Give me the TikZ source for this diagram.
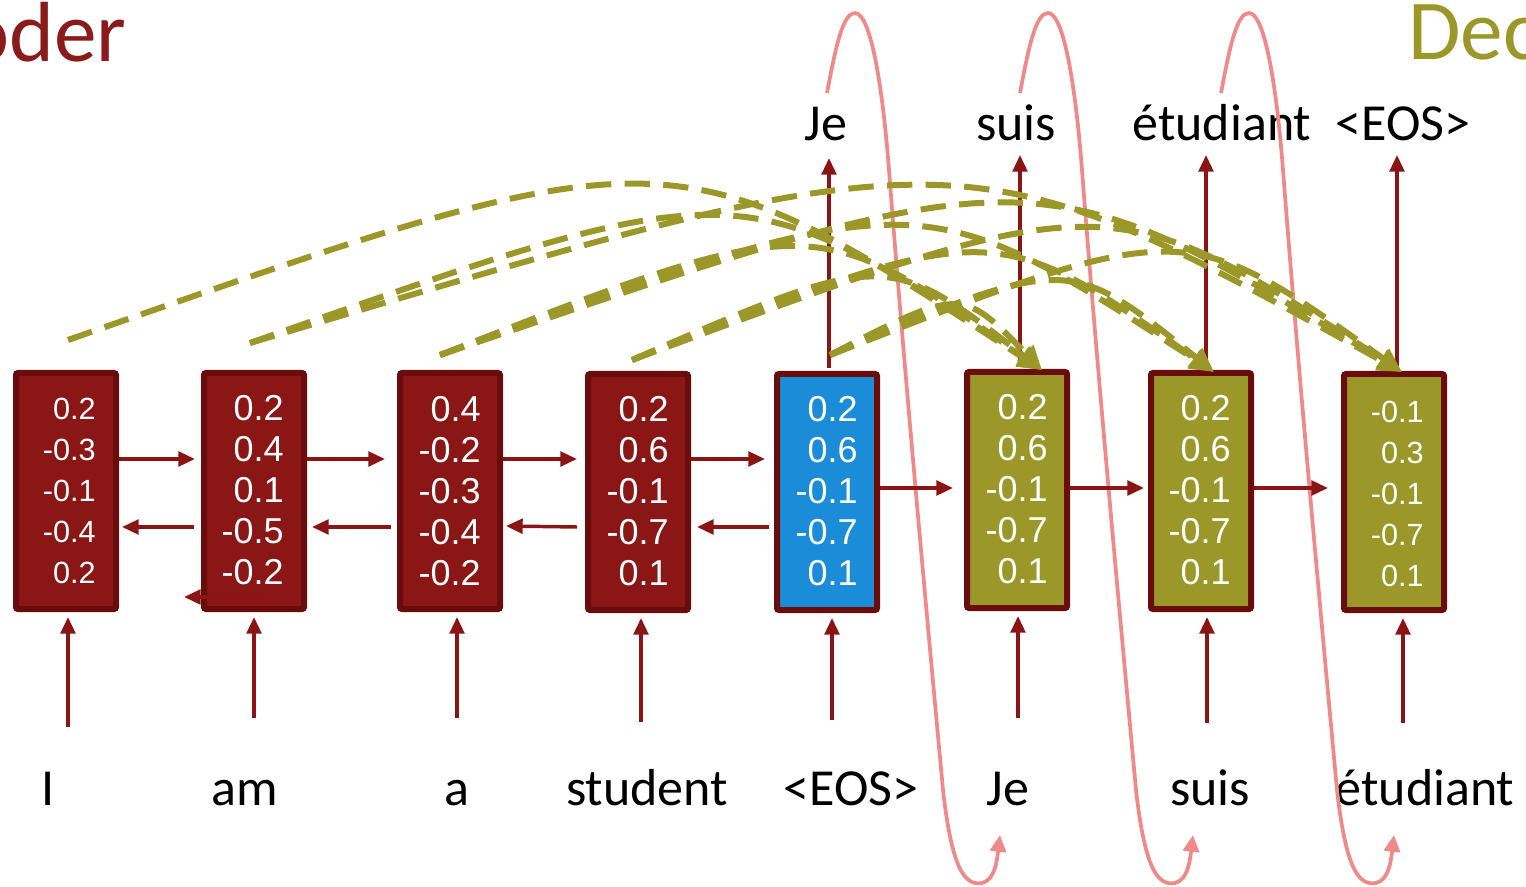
\documentclass[tikz,border=0pt]{standalone}
\usepackage{fontspec}
\setmainfont{Carlito}
\newfontfamily\numfont{Liberation Sans}
\usetikzlibrary{arrows.meta,calc}
\definecolor{encfill}{HTML}{8B1616}
\definecolor{boxedge}{HTML}{6B0C0C}
\definecolor{curblue}{HTML}{1A8CD8}
\definecolor{decolive}{HTML}{9B9829}
\definecolor{arrred}{HTML}{8B1414}
\definecolor{pinkc}{HTML}{F08A8A}
\definecolor{hand}{HTML}{8B1A1A}
\begin{document}
\begin{tikzpicture}[x=0.75pt,y=-0.75pt,
  box/.style={draw=boxedge, line width=4.5pt, rounded corners=1.5pt, minimum width=75pt, minimum height=177pt, inner sep=0pt},
  enc/.style={box, fill=encfill},
  cur/.style={box, fill=curblue},
  dec/.style={box, fill=decolive},
  nums/.style={font=\numfont\fontsize{27}{30.75}\selectfont, text=white, align=right, anchor=east, inner sep=0pt},
  numsS/.style={nums, font=\numfont\fontsize{23}{30.75}\selectfont},
  word/.style={font=\fontsize{39}{46}\selectfont, anchor=base, inner sep=0pt},
  title/.style={font=\fontsize{64}{70}\selectfont, inner sep=0pt},
  arr/.style={draw=arrred, line width=2.6pt, -{Triangle[length=12.5pt,width=11pt]}},
  attn/.style={draw=decolive, line width=4.5pt, dash pattern=on 19pt off 10pt, -{Triangle[length=18pt,width=16pt]}},
  copyarr/.style={draw=pinkc, line width=2.8pt, -{Triangle[length=12.5pt,width=12pt]}}
]
\useasboundingbox (0,0) rectangle (1526,887);
\clip (0,0) rectangle (1526,887);

% titles (cut off at the picture edges, as in the reference)
\node[title, text=hand, anchor=base east] (enc) at (127,62) {Encoder};
\node[title, text=decolive, anchor=base west] (dectitle) at (1408,60) {Decoder};

% boxes
\node[enc] (b1) at (66,491) {};
\node[enc] (b2) at (254,491) {};
\node[enc] (b3) at (450,491) {};
\node[enc] (b4) at (638,492) {};
\node[cur] (b5) at (827,492) {};
\node[dec] (b6) at (1017,490) {};
\node[dec] (b7) at (1201,491) {};
\node[dec] (b8) at (1394,492) {};

\node[numsS] (n1) at (96,491) {0.2\\-0.3\\-0.1\\-0.4\\0.2};
\node[nums] (n2) at (284,490) {0.2\\0.4\\0.1\\-0.5\\-0.2};
\node[nums] (n3) at (481,491) {0.4\\-0.2\\-0.3\\-0.4\\-0.2};
\node[nums] (n4) at (669,491) {0.2\\0.6\\-0.1\\-0.7\\0.1};
\node[nums] (n5) at (858,491) {0.2\\0.6\\-0.1\\-0.7\\0.1};
\node[nums] (n6) at (1048,489) {0.2\\0.6\\-0.1\\-0.7\\0.1};
\node[nums] (n7) at (1231,490) {0.2\\0.6\\-0.1\\-0.7\\0.1};
\node[numsS] (n8) at (1424,494) {-0.1\\0.3\\-0.1\\-0.7\\0.1};

% bottom words
\node[word] (w1) at (48,805) {I};
\node[word] (w2) at (245,805) {am};
\node[word] (w3) at (457,805) {a};
\node[word] (w4) at (647,805) {student};
\node[word] (w5) at (851,805) {<EOS>};
\node[word] (w6) at (1008,805) {Je};
\node[word] (w7) at (1210,805) {suis};
\node[word] (w8) at (1425,805) {étudiant};

% top words
\node[word] (o5) at (826,141) {Je};
\node[word] (o6) at (1016,141) {suis};
\node[word] (o7) at (1222,141) {étudiant};
\node[word] (o8) at (1403,141) {<EOS>};

% coordinates
\coordinate (in1) at (68,727);
\coordinate (in2) at (254,718);
\coordinate (in3) at (457,718);
\coordinate (in4) at (641,722);
\coordinate (in5) at (832,720);
\coordinate (in6) at (1018,718);
\coordinate (in7) at (1207,723);
\coordinate (in8) at (1403,723);
\coordinate (up5) at (829,158);
\coordinate (up6) at (1020,155);
\coordinate (up7) at (1206,155);
\coordinate (up8) at (1397,155);

% copy (pink) curves
\coordinate (c1a) at (827,93); \coordinate (c1b) at (1000,835);
\coordinate (c2a) at (1020,93); \coordinate (c2b) at (1193,835);
\coordinate (c3a) at (1221,93); \coordinate (c3b) at (1394,835);
\draw[copyarr] (c1a) .. controls (836,45) and (843,13) .. (855,13)
  .. controls (870,13) and (882,80) .. (889,170)
  .. controls (905,380) and (930,650) .. (943,790)
  .. controls (952,870) and (965,886) .. (982,883)
  .. controls (995,880) and (997,860) .. (c1b);
\draw[copyarr] (c2a) .. controls (1029,45) and (1036,13) .. (1048,13)
  .. controls (1063,13) and (1075,80) .. (1082,170)
  .. controls (1098,380) and (1123,650) .. (1136,790)
  .. controls (1145,870) and (1158,886) .. (1175,883)
  .. controls (1188,880) and (1190,860) .. (c2b);
\draw[copyarr] (c3a) .. controls (1230,45) and (1237,13) .. (1249,13)
  .. controls (1264,13) and (1276,80) .. (1283,170)
  .. controls (1299,380) and (1324,650) .. (1337,790)
  .. controls (1346,870) and (1359,886) .. (1376,883)
  .. controls (1389,880) and (1391,860) .. (c3b);

% encoder forward arrows
\draw[arr] ($(b1.east)+(0,-32)$) -- ($(b2.west)+(-6,-32)$);
\draw[arr] ($(b2.east)+(0,-32)$) -- ($(b3.west)+(-12,-32)$);
\draw[arr] ($(b3.east)+(0,-32)$) -- ($(b4.west)+(-8,-33)$);
\draw[arr] ($(b4.east)+(0,-33)$) -- ($(b5.west)+(-9,-33)$);
% encoder backward arrows
\draw[arr] ($(b2.west)+(-7,36)$) -- ($(b1.east)+(3,36)$);
\draw[arr] ($(b3.west)+(-6,36)$) -- ($(b2.east)+(5,36)$);
\draw[arr] ($(b4.west)+(-8,35)$) -- ($(b3.east)+(3,35)$);
\draw[arr] ($(b5.west)+(-5,35)$) -- ($(b4.east)+(6,35)$);
\draw[arr] ($(b2.center)+(9,106)$) -- ($(b2.west)+(-17,106)$);
% decoder forward arrows
\draw[arr] ($(b5.east)+(0,-4)$) -- ($(b6.west)+(-11,-2)$);
\draw[arr] ($(b6.east)+(0,-2)$) -- ($(b7.west)+(-4,-3)$);
\draw[arr] ($(b7.east)+(0,-3)$) -- ($(b8.west)+(-13,-4)$);

% input arrows
\foreach \i in {1,...,8}{
  \draw[arr] (in\i) -- ($(in\i |- b\i.south)+(0,5)$);
}
% output arrows
\foreach \i in {5,...,8}{
  \draw[arr] ($(up\i |- b\i.north)+(0,-3)$) -- (up\i);
}

% attention (dashed) curves
\coordinate (s1) at (68,340);
\coordinate (s2) at (250,343);
\coordinate (s3) at (440,355);
\coordinate (s4) at (632,360);
\coordinate (s5) at (830,355);
\coordinate (t6) at (1042,370);
\coordinate (t7) at (1214,372);
\coordinate (t8) at (1402,372);
\draw[attn] (s1) .. controls ($(s1)!0.62!(t6)+(0,-230)$) .. (t6);
\draw[attn] (s2) .. controls ($(s2)!0.62!(t6)+(0,-190)$) .. (t6);
\draw[attn] (s2) .. controls ($(s2)!0.62!(t8)+(0,-232)$) .. (t8);
\draw[attn] (s3) .. controls ($(s3)!0.62!(t6)+(0,-155)$) .. (t6);
\draw[attn] (s3) .. controls ($(s3)!0.62!(t7)+(0,-185)$) .. (t7);
\draw[attn] (s3) .. controls ($(s3)!0.62!(t8)+(0,-215)$) .. (t8);
\draw[attn] (s4) .. controls ($(s4)!0.62!(t6)+(0,-117)$) .. (t6);
\draw[attn] (s4) .. controls ($(s4)!0.62!(t7)+(0,-151)$) .. (t7);
\draw[attn] (s4) .. controls ($(s4)!0.62!(t8)+(0,-185)$) .. (t8);
\draw[attn] (s5) .. controls ($(s5)!0.62!(t6)+(0,-77)$) .. (t6);
\draw[attn] (s5) .. controls ($(s5)!0.62!(t7)+(0,-111)$) .. (t7);
\draw[attn] (s5) .. controls ($(s5)!0.62!(t8)+(0,-149)$) .. (t8);
\end{tikzpicture}
\end{document}
